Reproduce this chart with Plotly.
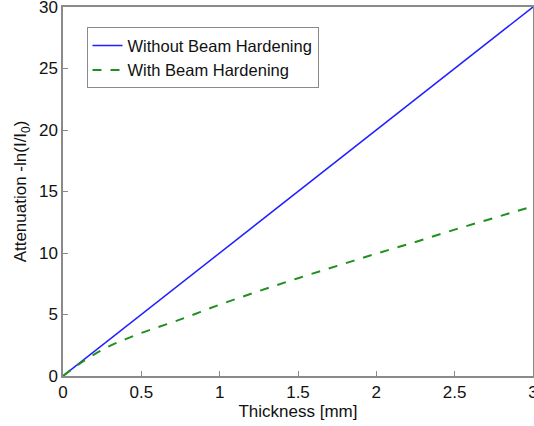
import plotly.graph_objects as go

# Material thickness in mm
thickness = [0, 0.1, 0.2, 0.3, 0.4, 0.5, 0.75, 1.0, 1.25, 1.5, 1.75, 2.0, 2.25, 2.5, 2.75, 3.0]
# Monoenergetic attenuation: straight line
no_hardening = [0, 1, 2, 3, 4, 5, 7.5, 10, 12.5, 15, 17.5, 20, 22.5, 25, 27.5, 30]
# Polychromatic beam: attenuation flattens as the beam hardens
with_hardening = [0, 0.95, 1.75, 2.45, 3.0, 3.5, 4.6, 5.8, 6.9, 7.95, 8.95, 9.95, 10.9, 11.9, 12.85, 13.8]

font = dict(family="Liberation Sans, Arial, sans-serif", size=17, color="#111111")
legend_font = dict(font, size=16.5)
axis_color = "#8a8a8a"

fig = go.Figure()
fig.add_trace(go.Scatter(
    x=thickness, y=no_hardening, mode="lines",
    name="Without Beam Hardening",
    line=dict(color="#1f1fff", width=1.5),
))
fig.add_trace(go.Scatter(
    x=thickness, y=with_hardening, mode="lines",
    name="With Beam Hardening", line_shape="spline",
    line=dict(color="#1e901e", width=2, dash="dash"),
))

common_axis = dict(
    showgrid=False, zeroline=False, showline=True, mirror=True,
    linecolor=axis_color, linewidth=1.5,
    ticks="inside", ticklen=5, tickcolor=axis_color, tickwidth=1,
    tickfont=font, ticklabeloverflow="allow", automargin=False,
)

fig.update_layout(
    width=534, height=426,
    margin=dict(l=63, r=1, t=7, b=50),
    paper_bgcolor="white", plot_bgcolor="white",
    font=font,
    showlegend=True,
    legend=dict(
        x=0.05, y=0.945, xanchor="left", yanchor="top",
        bgcolor="white", bordercolor=axis_color, borderwidth=1,
        font=legend_font, tracegroupgap=0,
    ),
    xaxis=dict(
        range=[0, 3], tickvals=[0, 0.5, 1, 1.5, 2, 2.5, 3],
        ticktext=["0", "0.5", "1", "1.5", "2", "2.5", "3"],
        title=dict(text="Thickness [mm]", font=font, standoff=2),
        **common_axis,
    ),
    yaxis=dict(
        range=[0, 30], tickvals=[0, 5, 10, 15, 20, 25, 30],
        title=dict(text="Attenuation -ln(I/I<sub>0</sub>)", font=font, standoff=8),
        **common_axis,
    ),
)

fig.write_html("out.html")
